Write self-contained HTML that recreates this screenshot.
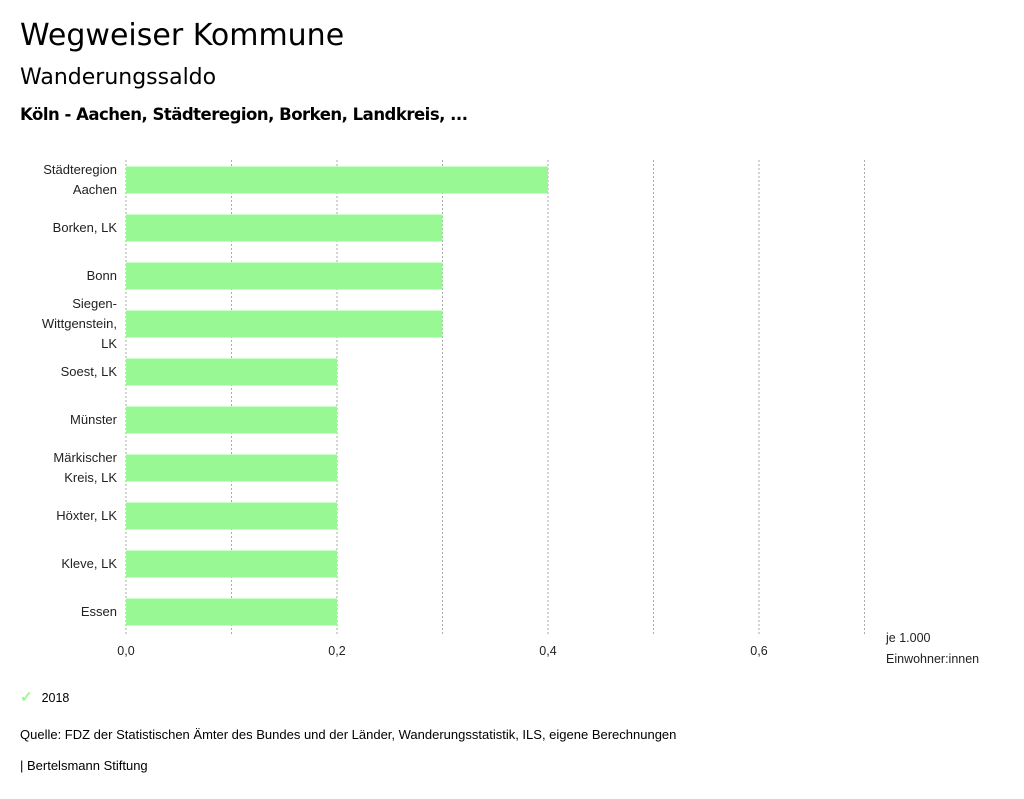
<!DOCTYPE html>
<html><head><meta charset="utf-8"><style>
body{margin:0;background:#fff;width:1024px;height:799px;overflow:hidden;font-family:"Liberation Sans",sans-serif;color:#000}
.t{position:absolute;white-space:nowrap}
</style></head><body>
<div class="t" style="left:20px;top:18px;font-family:'DejaVu Sans',sans-serif;font-size:30px">Wegweiser Kommune</div>
<div class="t" style="left:20px;top:65px;font-family:'DejaVu Sans',sans-serif;font-size:22px">Wanderungssaldo</div>
<div class="t" style="left:20px;top:105px;font-family:'DejaVu Sans',sans-serif;font-size:16.5px;font-weight:600;letter-spacing:-0.5px">Köln - Aachen, Städteregion, Borken, Landkreis, ...</div>
<svg id="chart" width="1024" height="799" style="position:absolute;left:0;top:0"></svg>
<div class="t" style="left:20px;top:688px;font-size:12.5px"><span style="color:#98f994;font-size:15px;margin-right:9px;font-weight:bold">✓</span>2018</div>
<div class="t" style="left:20px;top:727px;font-size:13px">Quelle: FDZ der Statistischen Ämter des Bundes und der Länder, Wanderungsstatistik, ILS, eigene Berechnungen</div>
<div class="t" style="left:20px;top:758px;font-size:13px">| Bertelsmann Stiftung</div>
<script>
const categories=[["Städteregion","Aachen"],["Borken, LK"],["Bonn"],["Siegen-","Wittgenstein,","LK"],["Soest, LK"],["Münster"],["Märkischer","Kreis, LK"],["Höxter, LK"],["Kleve, LK"],["Essen"]];
const values2018=[0.4,0.3,0.3,0.3,0.2,0.2,0.2,0.2,0.2,0.2];
const tickValues=[0,0.2,0.4,0.6];
const tickLabels=["0,0","0,2","0,4","0,6"];
const gridValues=[0,0.1,0.2,0.3,0.4,0.5,0.6,0.7];
const NS="http://www.w3.org/2000/svg";
const svg=document.getElementById('chart');
const x0=126,pxPer=1055,top0=160,band=48,barH=27,plotBottom=634;
const xs=v=>x0+v*pxPer;
const yc=i=>top0+20+i*band;
function mk(t,a){const e=document.createElementNS(NS,t);for(const k in a)e.setAttribute(k,a[k]);svg.appendChild(e);return e;}
gridValues.forEach(v=>{const l=mk('line',{x1:xs(v),x2:xs(v),y1:top0,y2:plotBottom,stroke:'#aaa','stroke-dasharray':'2,2','stroke-width':1});

});
values2018.forEach((v,i)=>{const r=mk('rect',{x:x0,y:yc(i)-barH/2,width:xs(v)-x0,height:barH,fill:'#98f994'});


const lines=categories[i];
lines.forEach((s,j)=>{const t=mk('text',{x:117,y:yc(i)+4+(j-(lines.length-1)/2)*20,'text-anchor':'end','font-size':13,'font-family':'Liberation Sans, sans-serif',fill:'#222'});t.textContent=s;

});});
tickValues.forEach((v,i)=>{const t=mk('text',{x:xs(v),y:655,'text-anchor':'middle','font-size':12.5,'font-family':'Liberation Sans, sans-serif',fill:'#222'});t.textContent=tickLabels[i];

});
[["je 1.000",642],["Einwohner:innen",663]].forEach(([s,y])=>{const t=mk('text',{x:886,y:y,'font-size':12.5,'font-family':'Liberation Sans, sans-serif',fill:'#222'});t.textContent=s;

});
</script>
</body></html>
